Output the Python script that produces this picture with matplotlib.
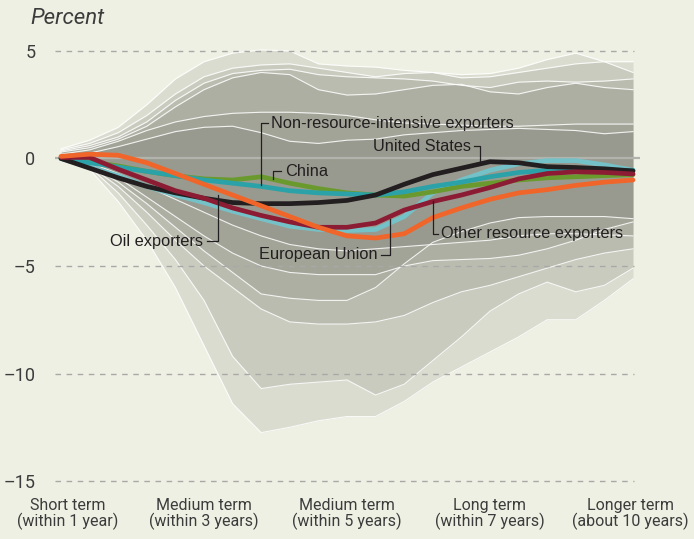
import numpy as np
import matplotlib.pyplot as plt

# horizon in quarters (0 = impact, 40 = about 10 years)
quarters = [0, 2, 4, 6, 8, 10, 12, 14, 16, 18, 20, 22, 24, 26, 28, 30, 32, 34, 36, 38, 40]

# fan of individual responses, upper / lower edges (percent)
band_upper_1 = [0.45, 0.85, 1.45, 2.5, 3.7, 4.5, 4.9, 5.05, 5.0, 4.4, 4.3, 4.25, 4.1, 4.0, 3.9, 3.95, 4.2, 4.6, 4.9, 4.5, 4.0]
band_upper_2 = [0.4, 0.7, 1.2, 2.0, 3.0, 3.8, 4.2, 4.35, 4.4, 4.2, 4.0, 3.8, 3.95, 4.0, 3.75, 3.8, 4.0, 4.2, 4.4, 4.5, 4.5]
band_upper_3 = [0.35, 0.6, 1.0, 1.7, 2.7, 3.5, 3.95, 4.1, 4.15, 3.9, 3.8, 3.75, 3.7, 3.6, 3.4, 3.3, 3.55, 3.6, 3.55, 3.6, 3.7]
band_upper_4 = [0.3, 0.5, 0.9, 1.5, 2.4, 3.2, 3.75, 4.0, 3.9, 3.2, 2.95, 3.0, 3.2, 3.4, 3.45, 3.1, 3.0, 3.3, 3.5, 3.3, 3.2]
band_upper_5 = [0.2, 0.4, 0.8, 1.3, 1.7, 1.95, 2.1, 2.15, 2.15, 2.1, 2.0, 1.8, 1.65, 1.6, 1.55, 1.5, 1.5, 1.55, 1.6, 1.6, 1.6]
band_upper_6 = [0.1, 0.25, 0.55, 0.9, 1.25, 1.45, 1.5, 1.2, 0.8, 0.7, 0.85, 0.9, 1.1, 1.2, 1.3, 1.35, 1.4, 1.35, 1.3, 1.15, 1.25]

band_lower_1 = [0.0, -0.5, -2.0, -3.8, -6.0, -8.7, -11.4, -12.75, -12.5, -12.2, -12.0, -12.0, -11.3, -10.4, -9.7, -9.0, -8.3, -7.5, -7.5, -6.6, -5.6]
band_lower_2 = [0.0, -0.4, -1.6, -3.1, -4.7, -6.6, -9.2, -10.7, -10.5, -10.4, -10.3, -11.0, -10.5, -9.4, -8.3, -7.1, -6.3, -5.75, -6.2, -5.9, -5.1]
band_lower_3 = [0.0, -0.35, -1.3, -2.5, -3.8, -5.0, -6.0, -7.0, -7.6, -7.7, -7.7, -7.6, -7.3, -6.7, -6.2, -5.9, -5.5, -5.1, -4.7, -4.4, -4.2]
band_lower_4 = [0.0, -0.3, -1.1, -2.1, -3.2, -4.3, -5.3, -6.3, -6.5, -6.6, -6.6, -6.0, -4.9, -3.9, -3.4, -3.0, -2.75, -2.7, -2.7, -2.7, -2.8]
band_lower_5 = [0.0, -0.25, -0.9, -1.8, -2.7, -3.6, -4.4, -5.0, -5.3, -5.4, -5.4, -5.4, -5.0, -4.75, -4.7, -4.65, -4.5, -4.2, -3.8, -3.3, -2.95]
band_lower_6 = [0.0, -0.2, -0.7, -1.3, -1.9, -2.5, -3.1, -3.6, -4.0, -4.2, -4.3, -4.2, -4.1, -4.0, -3.9, -3.8, -3.6, -3.5, -3.5, -3.55, -3.6]

# country group responses (percent)
european_union = [0.0, -0.4, -0.8, -1.3, -1.7, -2.05, -2.45, -2.8, -3.15, -3.3, -3.35, -3.3, -2.7, -1.6, -1.0, -0.55, -0.25, -0.1, -0.1, -0.3, -0.55]
china = [0.0, -0.15, -0.35, -0.6, -0.8, -0.95, -1.0, -0.85, -1.15, -1.4, -1.6, -1.7, -1.75, -1.55, -1.3, -1.15, -1.0, -0.9, -0.85, -0.8, -0.75]
non_resource = [0.0, -0.2, -0.4, -0.6, -0.8, -1.0, -1.15, -1.3, -1.5, -1.6, -1.65, -1.7, -1.55, -1.3, -1.1, -0.85, -0.65, -0.55, -0.55, -0.55, -0.55]
united_states = [0.0, -0.45, -0.9, -1.3, -1.6, -1.85, -2.05, -2.1, -2.1, -2.05, -1.95, -1.7, -1.2, -0.75, -0.45, -0.15, -0.2, -0.38, -0.42, -0.48, -0.58]
other_resource = [0.05, 0.05, -0.5, -1.0, -1.5, -1.85, -2.3, -2.65, -2.95, -3.2, -3.2, -3.0, -2.4, -2.0, -1.7, -1.35, -0.95, -0.7, -0.62, -0.65, -0.72]
oil_exporters = [0.1, 0.2, 0.15, -0.2, -0.7, -1.2, -1.7, -2.2, -2.7, -3.2, -3.6, -3.7, -3.5, -2.75, -2.3, -1.9, -1.6, -1.45, -1.25, -1.1, -1.0]

tick_pos = [0.5, 10, 20, 30, 39.8]
tick_labels = ['Short term\n(within 1 year)', 'Medium term\n(within 3 years)',
               'Medium term\n(within 5 years)', 'Long term\n(within 7 years)',
               'Longer term\n(about 10 years)']
y_ticks = [5, 0, -5, -10, -15]
y_labels = ['5', '0', '\u20135', '\u201310', '\u201315']

bg = '#eff0e4'
ink = '#231f20'
tick_col = '#3c3c3c'

fig = plt.figure(figsize=(6.94, 5.39), dpi=100, facecolor=bg)
ax = fig.add_axes([55 / 694, 47 / 539, 585 / 694, 452 / 539])
ax.set_facecolor(bg)
ax.set_xlim(-0.42, 40.49)
ax.set_ylim(-15.51, 5.51)

uppers = [band_upper_1, band_upper_2, band_upper_3, band_upper_4, band_upper_5, band_upper_6]
lowers = [band_lower_1, band_lower_2, band_lower_3, band_lower_4, band_lower_5, band_lower_6]
for up, lo in zip(uppers, lowers):
    ax.fill_between(quarters, lo, up, color='#5f6055', alpha=0.135, lw=0, zorder=1)
for up, lo in zip(uppers, lowers):
    ax.plot(quarters, up, color='white', lw=0.8, alpha=0.85, zorder=2)
    ax.plot(quarters, lo, color='white', lw=0.8, alpha=0.85, zorder=2)

# grid
for y in [5, -5, -10, -15]:
    ax.plot([-0.42, 40.1], [y, y], color='#a8a8a6', lw=1.0, ls=(0, (4, 4)), zorder=3)
ax.plot([-0.42, 40.49], [0, 0], color='#b3b3ad', lw=1.6, zorder=3)

series = [
    (european_union, '#74c2c8'),
    (china, '#6a9a2e'),
    (non_resource, '#2ba2a8'),
    (united_states, ink),
    (other_resource, '#8b1c34'),
    (oil_exporters, '#f0652a'),
]
for vals, col in series:
    ax.plot(quarters, vals, color=col, lw=3.4, solid_capstyle='round',
            solid_joinstyle='round', zorder=5)

lab = dict(fontsize=11.8, color=ink, family='Liberation Sans', va='center', zorder=6)
lead = dict(color=ink, lw=0.9, zorder=6)

ax.text(14.7, 1.63, 'Non-resource-intensive exporters', ha='left', **lab)
ax.plot([14.45, 14.0, 14.0], [1.63, 1.63, -1.25], **lead)

ax.text(15.65, -0.6, 'China', ha='left', **lab)
ax.plot([15.4, 14.85, 14.85], [-0.6, -0.6, -0.95], **lead)

ax.text(28.65, 0.56, 'United States', ha='right', **lab)
ax.plot([28.85, 29.3, 29.3], [0.56, 0.56, -0.1], **lead)

ax.text(9.95, -3.86, 'Oil exporters', ha='right', **lab)
ax.plot([10.2, 11.0, 11.0], [-3.86, -3.86, -1.68], **lead)

ax.text(22.15, -4.47, 'European Union', ha='right', **lab)
ax.plot([22.4, 23.0, 23.0], [-4.47, -4.47, -2.8], **lead)

ax.text(26.6, -3.49, 'Other resource exporters', ha='left', **lab)
ax.plot([26.35, 26.0, 26.0], [-3.49, -3.49, -2.0], **lead)

ax.set_yticks(y_ticks)
ax.set_yticklabels(y_labels, family='Roboto', fontsize=13, color=tick_col)
ax.set_xticks(tick_pos)
ax.set_xticklabels(tick_labels, family='Roboto', fontsize=11.5,
                   color=tick_col, linespacing=1.05)
ax.tick_params(length=0, axis='y', pad=14)
ax.tick_params(length=0, axis='x', pad=4)
for s in ax.spines.values():
    s.set_visible(False)

fig.text(30 / 694, 1 - 19 / 539, 'Percent', fontsize=16, style='italic',
         family='Roboto', color=tick_col, va='center', ha='left')

fig.savefig('out.png', dpi=100, facecolor=bg)
